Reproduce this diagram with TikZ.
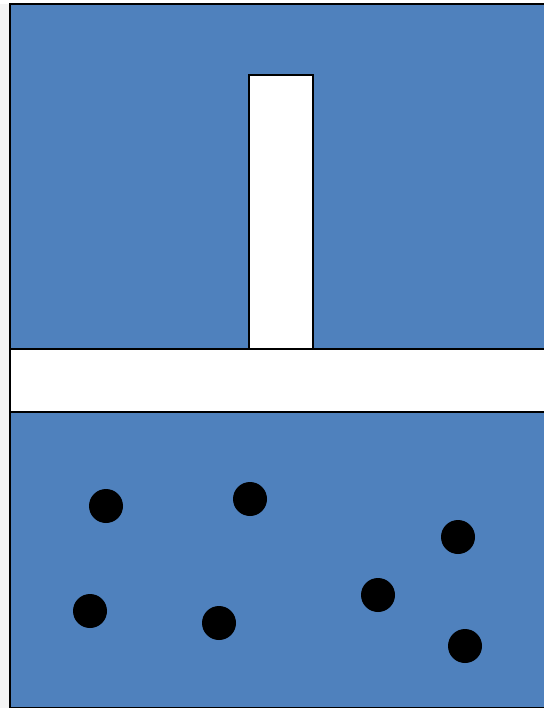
\documentclass[tikz,border=0pt]{standalone}
\definecolor{offblue}{HTML}{4F81BD}
\definecolor{margingray}{HTML}{F4F4F4}
\begin{document}
\begin{tikzpicture}[x=1pt,y=-1pt,
  panel/.style={fill=offblue,draw=black,line width=2pt},
  slot/.style={fill=white,draw=black,line width=2pt},
  particle/.style={fill=black,draw=none}]
\useasboundingbox (0,0) rectangle (543,708);
\fill[margingray] (0,4) rectangle (10,708);
\path[panel] (10,4) rectangle (560,707.5);
\path[slot] (10,348.5) rectangle (560,411.5);
\path[slot] (248.5,75.5) rectangle (312.5,348.5);
\fill[particle] (106,506) circle (17);
\fill[particle] (250,499) circle (17);
\fill[particle] (458,537) circle (17);
\fill[particle] (90,611) circle (17);
\fill[particle] (219,623) circle (17);
\fill[particle] (378,595) circle (17);
\fill[particle] (465,646) circle (17);
\end{tikzpicture}
\end{document}
